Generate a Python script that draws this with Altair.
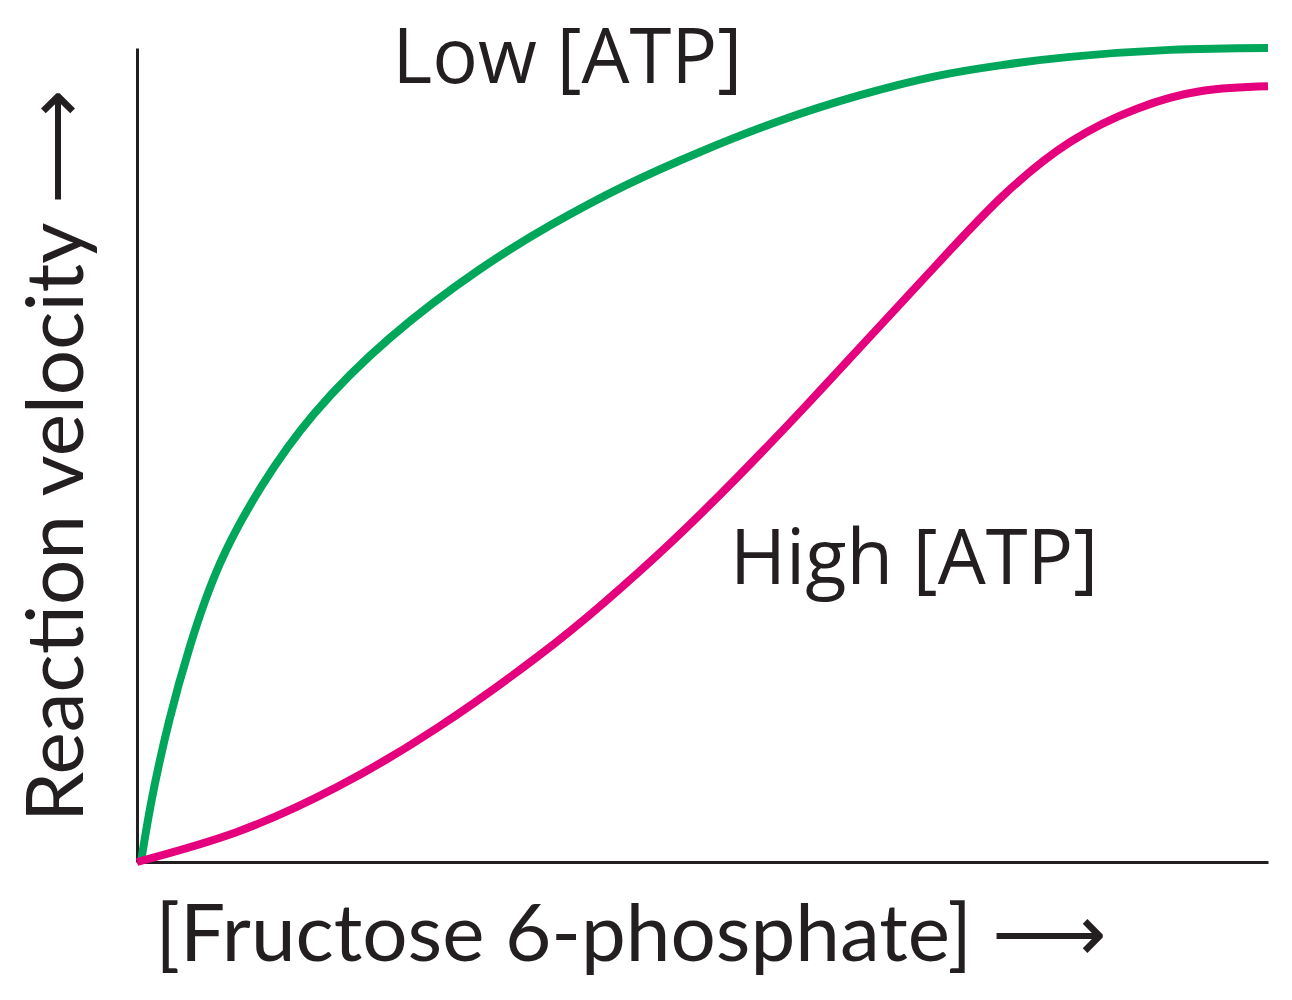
import altair as alt
import pandas as pd

# Low [ATP] curve (hyperbolic), arbitrary units 0-100
low_x = [0.35, 1.33, 2.83, 4.69, 7.34, 11.05, 15.65, 22.37, 30.33, 36.78, 43.15, 49.78, 56.85, 63.93, 70.56, 76.30, 82.49, 91.33, 100]
low_y = [0, 7.86, 17.26, 26.54, 36.68, 46.23, 55.05, 64.39, 72.83, 78.40, 83.09, 87.23, 91.06, 94.20, 96.52, 97.87, 98.91, 99.77, 100]

# High [ATP] curve (sigmoidal)
high_x = [0, 8.84, 17.68, 26.53, 35.37, 41.29, 47.13, 53.05, 58.97, 64.81, 70.73, 76.57, 82.49, 88.42, 94.25, 100]
high_y = [0, 3.69, 9.21, 16.46, 25.18, 31.86, 39.15, 47.22, 55.79, 64.54, 73.42, 81.85, 88.44, 92.55, 94.74, 95.29]

label_text = ["Low [ATP]", "High [ATP]"]
label_x = [22.6, 52.43]
label_y = [95.7, 34.15]

GREEN = "#00A65A"
MAGENTA = "#E5007E"
INK = "#231F20"
TITLE_FONT = "Lato"

df = pd.concat([
    pd.DataFrame({"x": low_x, "y": low_y, "series": "Low [ATP]", "order": range(len(low_x))}),
    pd.DataFrame({"x": high_x, "y": high_y, "series": "High [ATP]", "order": range(len(high_x))}),
])
labels = pd.DataFrame({"x": label_x, "y": label_y, "text": label_text})

xscale = alt.Scale(domain=[0, 100], nice=False, zero=False)
yscale = alt.Scale(domain=[0, 100], nice=False, zero=False)

x_axis = alt.Axis(
    title="[Fructose 6-phosphate] \u27f6",
    labels=False, ticks=False, grid=False,
    domainColor=INK, domainWidth=3,
    titleFont=TITLE_FONT, titleFontSize=80, titleFontWeight="normal", titleColor=INK,
    titleX=18, titleY=98, titleAlign="left", titleBaseline="alphabetic",
)
y_axis = alt.Axis(
    title="Reaction velocity \u27f6",
    labels=False, ticks=False, grid=False,
    domainColor=INK, domainWidth=3,
    titleFont=TITLE_FONT, titleFontSize=80, titleFontWeight="normal", titleColor=INK,
    titleAngle=270, titleX=-55, titleY=407, titleAlign="center", titleBaseline="alphabetic",
)

lines = alt.Chart(df).mark_line(strokeWidth=8, interpolate="natural", strokeCap="butt").encode(
    x=alt.X("x:Q", scale=xscale, axis=x_axis),
    y=alt.Y("y:Q", scale=yscale, axis=y_axis),
    color=alt.Color("series:N", scale=alt.Scale(domain=["Low [ATP]", "High [ATP]"], range=[GREEN, MAGENTA]), legend=None),
    order="order:Q",
    detail="series:N",
)

text = alt.Chart(labels).mark_text(
    font="Open Sans", fontSize=76, color=INK, align="left", baseline="alphabetic"
).encode(
    x=alt.X("x:Q", scale=xscale),
    y=alt.Y("y:Q", scale=yscale),
    text="text:N",
)

chart = alt.layer(lines, text).properties(
    width=1131, height=814,
    background="white",
    autosize=alt.AutoSizeParams(type="none"),
    padding={"left": 129, "top": 40, "right": 16, "bottom": 130},
).configure_view(stroke=None)

chart.save("out.html", embed_options={"renderer": "svg", "actions": False})
